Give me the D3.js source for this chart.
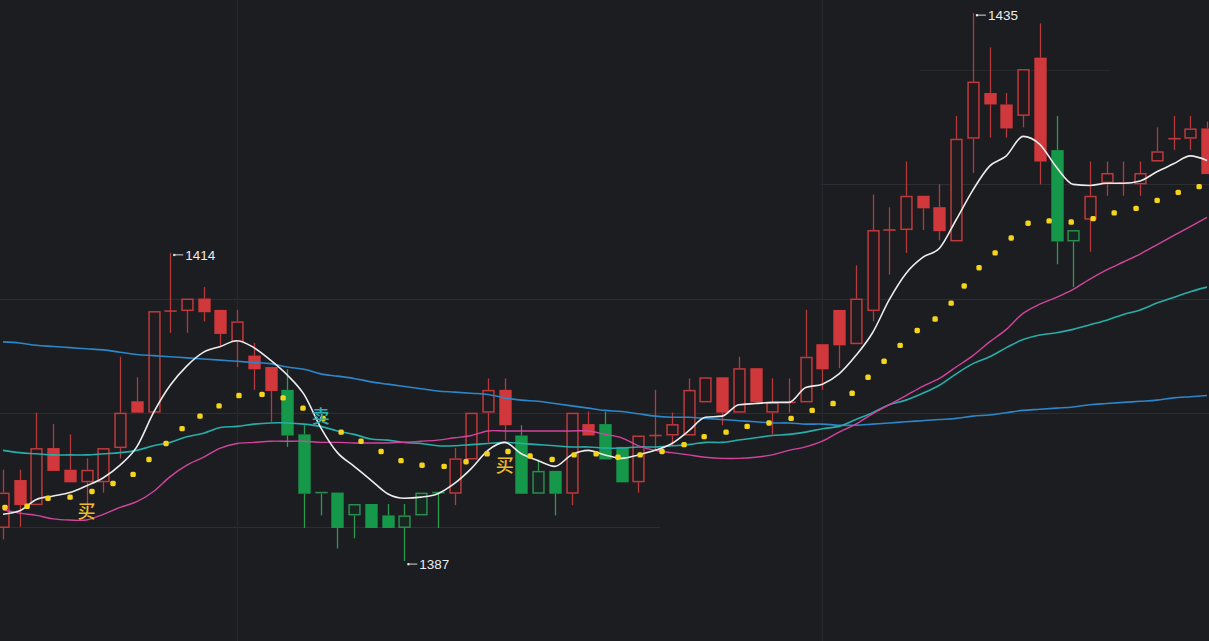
<!DOCTYPE html>
<html><head><meta charset="utf-8">
<script src="https://cdn.jsdelivr.net/npm/d3@7"></script>
<style>html,body{margin:0;padding:0;background:#1c1d21;overflow:hidden}</style>
</head><body>
<svg id="c" width="1209" height="641"></svg>
<script>
// ---- candle data (price units) ----
const open = [1389.9,1391.9,1391.9,1394.9,1393.9,1393.9,1393.9,1396.9,1400.0,1400.0,
  1408.9,1408.9,1408.8,1406.9,1406.2,1403.8,1401.9,1402.0,1398.1,1393.0,
  1393.0,1392.0,1392.0,1391.0,1391.0,1393.0,1393.0,1392.9,1395.9,1400.0,
  1398.9,1398.0,1394.9,1394.9,1392.9,1398.0,1399.0,1397.0,1393.9,1397.95,
  1398.0,1398.0,1400.9,1400.0,1400.0,1400.9,1400.0,1400.9,1400.9,1403.8,
  1405.9,1406.0,1408.9,1416.0,1416.0,1417.9,1415.9,1415.0,1424.0,1427.0,
  1424.9,1426.0,1422.0,1423.0,1416.0,1416.9,1420.1,1420.1,1420.0,1422.0,
  1424.0,1424.0,1420.9];
const high = [1395.0,1395.0,1400.0,1399.0,1398.1,1396.0,1396.9,1404.9,1403.1,1408.9,
  1414.0,1410.0,1411.0,1409.0,1409.0,1406.1,1404.0,1403.8,1398.9,1393.0,
  1393.0,1392.0,1392.0,1392.0,1392.0,1393.0,1393.0,1396.9,1400.0,1403.0,
  1403.0,1398.9,1395.9,1394.9,1400.0,1400.1,1400.1,1397.0,1398.0,1402.0,
  1400.0,1403.0,1403.1,1403.1,1404.9,1403.9,1403.0,1403.0,1409.0,1406.0,
  1409.0,1412.9,1419.1,1418.0,1422.0,1419.0,1420.0,1426.0,1435.0,1432.0,
  1428.0,1430.1,1434.1,1426.0,1416.0,1422.0,1422.0,1422.0,1422.0,1425.0,
  1426.0,1426.0,1425.5];
const low = [1388.9,1390.0,1391.9,1394.9,1393.9,1391.7,1393.0,1396.0,1400.0,1400.0,
  1407.0,1407.0,1408.0,1405.9,1404.0,1402.0,1399.2,1397.0,1389.9,1391.0,
  1388.1,1389.0,1389.9,1389.9,1387.0,1391.0,1389.9,1391.9,1395.9,1397.4,
  1397.6,1392.9,1392.9,1391.0,1391.9,1398.0,1395.9,1393.9,1393.0,1396.7,
  1397.1,1398.0,1400.9,1398.9,1400.0,1400.9,1398.1,1400.0,1400.9,1402.0,
  1403.9,1406.0,1408.0,1412.1,1414.0,1416.0,1415.1,1415.0,1421.0,1424.1,
  1424.1,1425.0,1420.0,1413.0,1411.0,1414.1,1419.0,1419.0,1419.0,1422.0,
  1423.0,1423.0,1420.9];
const close = [1393.0,1394.1,1396.9,1396.9,1395.0,1395.0,1396.9,1400.0,1401.0,1408.9,
  1408.9,1410.0,1410.0,1409.0,1408.0,1405.0,1404.0,1398.0,1392.9,1392.9,
  1389.9,1391.0,1389.9,1389.9,1389.9,1391.0,1392.9,1396.0,1400.0,1402.0,
  1402.0,1392.9,1392.9,1392.9,1400.0,1399.0,1395.9,1393.9,1398.0,1398.0,
  1399.0,1402.0,1403.1,1403.1,1403.9,1403.9,1400.9,1400.9,1404.9,1406.0,
  1409.0,1410.0,1416.0,1416.0,1419.0,1419.0,1418.0,1424.0,1429.0,1428.0,
  1427.0,1430.1,1431.1,1415.0,1415.0,1419.0,1421.0,1420.1,1421.0,1422.9,
  1424.0,1424.9,1424.9];
// 1 = hollow body, 0 = solid body
const hollow = [1,0,1,0,0,1,1,1,0,1, 1,1,0,0,1,0,0,0,0,0, 0,1,0,0,1,1,0,1,1,1,
  0,0,1,0,1,0,0,0,1,1, 1,1,1,0,1,0,1,1,1,0, 0,1,1,1,1,0,0,1,1,0,
  0,1,0,0,1,1,1,1,1,1, 1,1,0];

// ---- moving averages (one value per candle) ----
const maWhite = [1391.1,1391.4,1392.4,1392.7,1393.0,1393.6,1394.3,1395.4,1397.0,1400.0,
  1402.4,1404.1,1405.3,1405.8,1406.3,1405.7,1404.6,1403.3,1401.6,1398.7,
  1396.5,1395.3,1394.1,1392.9,1392.5,1392.6,1392.9,1393.8,1395.1,1396.7,
  1397.4,1396.4,1395.8,1395.3,1396.3,1396.7,1396.3,1396.0,1396.3,1396.7,
  1397.3,1398.4,1399.6,1399.7,1400.7,1400.8,1400.9,1400.9,1402.2,1402.5,
  1403.4,1405.0,1407.0,1409.9,1412.2,1413.6,1414.4,1416.9,1419.5,1421.6,
  1422.5,1424.2,1423.5,1421.5,1420.0,1419.9,1420.1,1420.1,1420.3,1421.1,
  1421.8,1422.5,1422.1];
const maMagenta = [1391.5,1391.2,1391.0,1390.7,1390.6,1390.6,1391.1,1391.7,1392.2,1393.1,
  1394.4,1395.4,1396.1,1396.9,1397.3,1397.4,1397.5,1397.5,1397.5,1397.4,
  1397.4,1397.35,1397.35,1397.35,1397.4,1397.5,1397.6,1397.8,1398.0,1398.4,
  1398.4,1398.4,1398.4,1398.4,1398.4,1398.4,1398.1,1397.8,1397.1,1396.7,
  1396.5,1396.3,1396.1,1396.0,1396.0,1396.1,1396.3,1396.7,1397.0,1397.5,
  1398.3,1399.0,1399.9,1400.7,1401.5,1402.3,1403.0,1404.0,1405.0,1406.2,
  1407.3,1408.7,1409.5,1410.1,1410.8,1411.7,1412.5,1413.2,1413.9,1414.7,
  1415.5,1416.3,1417.1];
const maTeal = [1396.7,1396.5,1396.4,1396.3,1396.3,1396.3,1396.4,1396.5,1396.7,1397.1,
  1397.4,1397.9,1398.2,1398.7,1398.8,1399.0,1399.1,1399.1,1399.0,1398.8,
  1398.4,1398.1,1397.7,1397.6,1397.4,1397.3,1397.1,1397.1,1397.2,1397.3,
  1397.4,1397.3,1397.2,1397.1,1397.0,1397.0,1396.9,1396.9,1397.0,1397.0,
  1397.1,1397.2,1397.4,1397.4,1397.6,1397.8,1398.0,1398.1,1398.3,1398.6,
  1398.8,1399.4,1400.0,1400.7,1401.1,1401.7,1402.4,1403.4,1404.3,1404.9,
  1405.7,1406.4,1406.8,1407.0,1407.3,1407.7,1408.1,1408.6,1409.0,1409.6,
  1410.1,1410.6,1411.0];
const maBlue = [1406.2,1406.1,1405.9,1405.8,1405.7,1405.6,1405.5,1405.3,1405.1,1405.0,
  1404.9,1404.8,1404.7,1404.6,1404.5,1404.4,1404.3,1404.0,1403.8,1403.4,
  1403.2,1403.0,1402.7,1402.5,1402.3,1402.1,1401.9,1401.8,1401.7,1401.6,
  1401.3,1401.1,1401.0,1400.8,1400.6,1400.4,1400.2,1400.1,1399.9,1399.7,
  1399.6,1399.6,1399.5,1399.4,1399.3,1399.2,1399.1,1399.1,1399.0,1399.0,
  1398.9,1398.9,1399.0,1399.1,1399.2,1399.3,1399.4,1399.5,1399.7,1399.8,
  1400.0,1400.2,1400.3,1400.4,1400.5,1400.7,1400.8,1400.9,1401.0,1401.1,
  1401.3,1401.4,1401.5];

// ---- yellow dotted indicator: position (in candle units) and value ----
const dotPos = [0.12,1.44,2.69,4.01,5.32,6.58,7.78,8.73,9.75,10.71,11.78,12.92,14.11,15.49,16.75,
  17.94,19.14,20.22,21.41,22.61,23.80,25.06,26.38,27.69,28.95,30.20,31.52,32.84,34.15,35.47,
  36.78,38.10,39.41,40.73,41.93,43.24,44.50,45.81,47.13,48.39,49.64,50.78,51.73,52.69,53.65,
  54.67,55.74,56.70,57.48,58.37,59.33,60.29,61.30,62.56,63.88,65.19,66.45,67.76,69.02,70.28,71.53];
const dotVal = [1391.7,1391.8,1392.5,1392.6,1393.1,1393.8,1394.6,1395.9,1397.3,1398.6,1399.7,1400.6,1401.5,1401.6,1401.3,
  1400.4,1399.5,1398.3,1397.5,1396.6,1395.8,1395.4,1395.3,1395.7,1396.4,1396.6,1396.2,1395.9,1396.3,1396.4,
  1396.1,1396.3,1396.6,1397.2,1397.9,1398.3,1398.8,1399.1,1399.5,1400.2,1400.8,1401.7,1403.1,1404.5,1405.9,
  1407.2,1408.2,1409.6,1411.1,1412.7,1414.0,1415.3,1416.6,1416.8,1416.7,1417.0,1417.5,1417.9,1418.6,1419.3,1419.8];

// ---- annotations ----
const peakIdx = [10, 58];   // labelled highs
const troughIdx = [24];     // labelled lows
const signalText = ["买", "买", "卖"];
const signalIdx = [5, 30, 19];
const signalVal = [1391.3, 1395.4, 1399.7];
const signalKind = ["buy", "buy", "sell"];

// ---- grid ----
const gridPrice = [1390, 1400, 1410, 1420, 1430];
const gridFrom  = [-1, -1, -1, 48.9, 54.8];
const gridTo    = [39.3, 73, 73, 73, 66.2];
const vGridIdx  = [14, 49];

// ================= drawing =================
const W = 1209, H = 641;
const svg = d3.select("#c");
const n = open.length;
const x = d3.scaleLinear().domain([0, n - 1]).range([3, 1207]);
const y = d3.scaleLinear().domain([1380, 1436.15]).range([H, 0]);
const step = x(1) - x(0);
const bw = step * 0.74;

svg.append("rect").attr("width", W).attr("height", H).attr("fill", "#1c1d21");

// grid
const g0 = svg.append("g");
gridPrice.forEach((p, i) => {
  const yy = Math.round(y(p)) + 0.5;
  g0.append("line").attr("x1", x(gridFrom[i])).attr("x2", x(gridTo[i]))
    .attr("y1", yy).attr("y2", yy).attr("stroke", i === 4 ? "#27282d" : "#2d2e33").attr("stroke-width", 1.2);
});
vGridIdx.forEach(i => {
  const xx = Math.round(x(i)) + 0.5;
  g0.append("line").attr("x1", xx).attr("x2", xx).attr("y1", 0).attr("y2", H)
    .attr("stroke", "#26272c").attr("stroke-width", 1.2);
});

// candles
const RED_F = "#d0383b", RED_S = "#bd3a3d", RED_W = "#b8393c";
const GRN_F = "#16984a", GRN_S = "#2a8c4e", GRN_W = "#2a9a4c";
const cg = svg.append("g");
d3.range(n).forEach(i => {
  const up = close[i] >= open[i];
  const cx = Math.round(x(i)) + 0.5;
  const top = y(Math.max(open[i], close[i]));
  const bot = y(Math.min(open[i], close[i]));
  const wc = up ? RED_W : GRN_W;
  if (y(high[i]) < top - 0.5)
    cg.append("line").attr("x1", cx).attr("x2", cx).attr("y1", y(high[i])).attr("y2", top)
      .attr("stroke", wc).attr("stroke-width", 1.3);
  if (y(low[i]) > bot + 0.5)
    cg.append("line").attr("x1", cx).attr("x2", cx).attr("y1", bot).attr("y2", y(low[i]))
      .attr("stroke", wc).attr("stroke-width", 1.3);
  const h = Math.max(bot - top, 1.2);
  if (bot - top < 2) {
    cg.append("line").attr("x1", cx - bw / 2).attr("x2", cx + bw / 2)
      .attr("y1", top).attr("y2", top).attr("stroke", up ? RED_S : GRN_S).attr("stroke-width", 1.6);
  } else if (hollow[i]) {
    cg.append("rect").attr("x", cx - bw / 2 + 0.75).attr("y", top + 0.75)
      .attr("width", bw - 1.5).attr("height", h - 1.5)
      .attr("fill", up ? "#1f1b1e" : "#172620").attr("stroke", up ? RED_S : GRN_S).attr("stroke-width", 1.5);
  } else {
    cg.append("rect").attr("x", cx - bw / 2).attr("y", top)
      .attr("width", bw).attr("height", h).attr("fill", up ? RED_F : GRN_F);
  }
});

// moving averages
function drawLine(vals, color, width, curve) {
  const ln = d3.line().x((d, i) => x(i)).y(d => y(d)).curve(curve);
  svg.append("path").datum(vals).attr("d", ln).attr("fill", "none")
    .attr("stroke", color).attr("stroke-width", width).attr("stroke-linejoin", "round");
}
drawLine(maBlue, "#2c86c9", 1.6, d3.curveCatmullRom.alpha(0.5));
drawLine(maTeal, "#28aeaa", 1.6, d3.curveCatmullRom.alpha(0.5));
drawLine(maMagenta, "#d2449e", 1.4, d3.curveCatmullRom.alpha(0.5));
drawLine(maWhite, "#ececec", 1.6, d3.curveMonotoneX);

// yellow dots
svg.append("g").selectAll("rect").data(dotPos).join("rect")
  .attr("x", d => x(d) - 2.7).attr("y", (d, i) => y(dotVal[i]) - 2.7)
  .attr("width", 5.4).attr("height", 5.4).attr("rx", 1.6)
  .attr("fill", "#f4d41c");

// extreme labels
function extremeLabel(i, v, dy) {
  const px = x(i) + 2, py = y(v) + dy;
  svg.append("rect").attr("x", px + 1).attr("y", py - 1).attr("width", 2.2).attr("height", 2.2).attr("fill", "#e8e8e8");
  svg.append("line").attr("x1", px + 3).attr("x2", px + 11).attr("y1", py).attr("y2", py)
    .attr("stroke", "#d8d8d8").attr("stroke-width", 1);
  svg.append("text").attr("x", px + 13).attr("y", py).attr("dy", "0.36em")
    .attr("fill", "#ececec").attr("font-family", "'Liberation Sans', Arial, sans-serif")
    .attr("font-size", 13.5).text(d3.format("d")(v));
}
peakIdx.forEach(i => extremeLabel(i, high[i], 2));
troughIdx.forEach(i => extremeLabel(i, low[i], 3));

// buy / sell signals
signalText.forEach((t, k) => {
  const buy = signalKind[k] === "buy";
  svg.append("text").attr("x", x(signalIdx[k])).attr("y", y(signalVal[k]))
    .attr("text-anchor", "middle").attr("dy", "0.36em")
    .attr("font-family", "'Noto Sans CJK SC', sans-serif").attr("font-size", 18)
    .attr("font-weight", 500)
    .attr("fill", buy ? "#eebb2c" : "#2fb0b2")
    .text(t);
});
</script>
</body></html>
